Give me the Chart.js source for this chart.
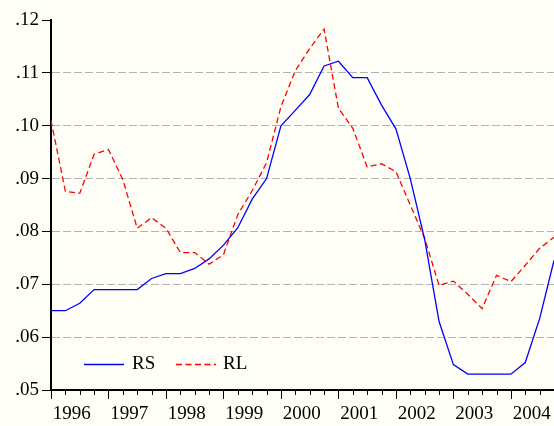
<!DOCTYPE html>
<html>
<head>
<meta charset="utf-8">
<script src="https://cdn.jsdelivr.net/npm/chart.js@4.4.1/dist/chart.umd.min.js"></script>
<style>
  html, body { margin: 0; padding: 0; background: #fffff7; }
  #wrap { width: 554px; height: 426px; }
</style>
</head>
<body>
<div id="wrap"><canvas id="myChart" width="554" height="426"></canvas></div>
<script>
// quarterly data 1996Q1 - 2004Q4
const years = ['1996', '1997', '1998', '1999', '2000', '2001', '2002', '2003', '2004'];
const rs = [0.0650, 0.0650, 0.0664, 0.0690, 0.0690, 0.0690, 0.0690, 0.0711, 0.0720, 0.0720, 0.0730, 0.0748,
            0.0774, 0.0807, 0.0861, 0.0900, 0.1000, 0.1029, 0.1059, 0.1113, 0.1122, 0.1091, 0.1091, 0.1039,
            0.0994, 0.0900, 0.0785, 0.0630, 0.0548, 0.0530, 0.0530, 0.0530, 0.0530, 0.0552, 0.0635, 0.0745];
const rl = [0.1010, 0.0876, 0.0872, 0.0946, 0.0955, 0.0898, 0.0806, 0.0826, 0.0806, 0.0760, 0.0760, 0.0738,
            0.0756, 0.0832, 0.0877, 0.0930, 0.1036, 0.1104, 0.1146, 0.1183, 0.1033, 0.0995, 0.0922, 0.0928,
            0.0913, 0.0850, 0.0787, 0.0698, 0.0706, 0.0681, 0.0654, 0.0717, 0.0705, 0.0736, 0.0768, 0.0789];
const yTicks = [0.05, 0.06, 0.07, 0.08, 0.09, 0.10, 0.11, 0.12];

const serif = "'Liberation Serif', 'DejaVu Serif', serif";

// paint the cream background
const bgPlugin = {
    id: 'bg',
    beforeDraw(chart) {
        const ctx = chart.ctx;
        ctx.save();
        ctx.fillStyle = '#fffff7';
        ctx.fillRect(0, 0, chart.width, chart.height);
        ctx.restore();
    }
};

// quarter tick marks under the x axis, longer at each year
const qTicks = {
    id: 'qTicks',
    afterDraw(chart) {
        const ctx = chart.ctx;
        const xs = chart.scales.x;
        const y0 = chart.chartArea.bottom;
        ctx.save();
        ctx.strokeStyle = '#000';
        ctx.lineWidth = 1;
        ctx.beginPath();
        for (let q = 0; q < rs.length; q++) {
            const x = Math.round(xs.getPixelForValue(q)) + 0.5;
            ctx.moveTo(x, y0);
            ctx.lineTo(x, y0 + (q % 4 === 0 ? 9 : 5));
        }
        ctx.stroke();
        ctx.restore();
    }
};

// legend sitting inside the plot, bottom left
const innerLegend = {
    id: 'innerLegend',
    afterDatasetsDraw(chart) {
        const ctx = chart.ctx;
        const y = 364.5;
        const items = [[84, 124, 132], [176, 216, 223]];
        ctx.save();
        chart.data.datasets.forEach((ds, i) => {
            const it = items[i];
            ctx.strokeStyle = ds.borderColor;
            ctx.lineWidth = ds.borderWidth;
            ctx.setLineDash(ds.borderDash || []);
            ctx.beginPath();
            ctx.moveTo(it[0], y);
            ctx.lineTo(it[1], y);
            ctx.stroke();
            ctx.setLineDash([]);
            ctx.fillStyle = '#000';
            ctx.font = '19px ' + serif;
            ctx.textBaseline = 'middle';
            ctx.fillText(ds.label, it[2], y);
        });
        ctx.restore();
    }
};

const ctx = document.getElementById('myChart').getContext('2d');
const myChart = new Chart(ctx, {
    type: 'line',
    data: {
        datasets: [{
            label: 'RS',
            data: rs.map((v, i) => ({ x: i, y: v })),
            borderColor: '#0000ff',
            borderWidth: 1.3,
            pointRadius: 0,
            tension: 0
        }, {
            label: 'RL',
            data: rl.map((v, i) => ({ x: i, y: v })),
            borderColor: '#ff0000',
            borderWidth: 1.3,
            borderDash: [6, 3.5],
            pointRadius: 0,
            tension: 0
        }]
    },
    options: {
        responsive: false,
        animation: false,
        devicePixelRatio: 1,
        layout: { padding: { top: 20, right: 0, left: 0, bottom: 0 } },
        plugins: { legend: { display: false }, tooltip: { enabled: false } },
        scales: {
            x: {
                type: 'linear',
                min: 0,
                max: rs.length - 1,
                afterBuildTicks: (scale) => {
                    scale.ticks = years.map((y, k) => ({ value: 4 * k + 1.45 }));
                },
                afterFit: (scale) => {
                    scale.height = 36;
                    scale.paddingLeft = 0;
                    scale.paddingRight = 0;
                },
                grid: { display: false, drawTicks: true, tickLength: 9 },
                border: { display: true, color: '#000', width: 2 },
                ticks: {
                    autoSkip: false,
                    maxRotation: 0,
                    padding: 4,
                    color: '#000',
                    font: { family: serif, size: 19 },
                    callback: (v, i) => years[i]
                }
            },
            y: {
                min: 0.05,
                max: 0.12,
                afterBuildTicks: (scale) => {
                    scale.ticks = yTicks.map(v => ({ value: v }));
                },
                afterFit: (scale) => {
                    scale.width = 51;
                    scale.paddingTop = 0;
                    scale.paddingBottom = 0;
                },
                grid: {
                    color: (c) => (c.tick && (c.tick.value <= 0.0501 || c.tick.value >= 0.1199)) ? 'rgba(0,0,0,0)' : '#b4b4b4',
                    lineWidth: 1,
                    drawTicks: true,
                    tickLength: 9,
                    tickColor: '#000',
                    tickWidth: 1,
                    tickBorderDash: []
                },
                border: { display: true, color: '#000', width: 2, dash: [8, 3] },
                ticks: {
                    padding: 3,
                    color: '#000',
                    font: { family: serif, size: 19 },
                    callback: (v) => v.toFixed(2).replace('0.', '.')
                }
            }
        }
    },
    plugins: [bgPlugin, qTicks, innerLegend]
});
</script>
</body>
</html>
